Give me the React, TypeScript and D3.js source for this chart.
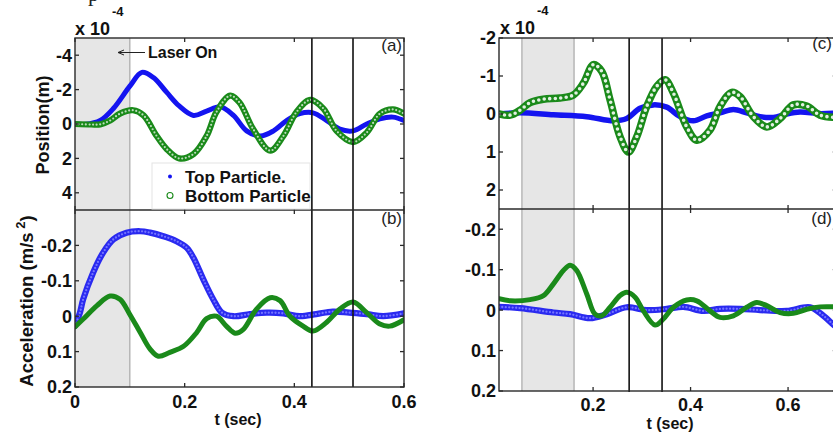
import React from 'react';
import * as d3 from 'd3';

type Pt = [number, number];

// ---------- DATA ----------
// (a) position, units of 1e-4 m (axis reversed: negative up)
const topPosA: Pt[] = [
  [0, 0], [0.02, 0.02], [0.046, -0.2], [0.07, -0.9], [0.1, -2.2], [0.122, -3.0], [0.143, -2.7],
  [0.167, -1.85], [0.19, -1.05], [0.216, -0.5], [0.24, -0.75], [0.265, -1.0], [0.289, -0.5],
  [0.313, 0.4], [0.338, 0.7], [0.362, 0.4], [0.386, -0.2], [0.41, -0.6], [0.434, -0.65],
  [0.459, -0.2], [0.483, 0.3], [0.507, 0.4], [0.532, 0], [0.556, -0.3], [0.58, -0.4], [0.6, -0.2],
];
const botPosA: Pt[] = [
  [0, 0], [0.03, 0.03], [0.046, 0.02], [0.064, -0.2], [0.082, -0.6], [0.106, -0.8], [0.125, -0.5],
  [0.149, 0.7], [0.167, 1.45], [0.19, 2.0], [0.216, 1.75], [0.24, 0.7], [0.258, -0.7], [0.283, -1.65],
  [0.3, -1.25], [0.325, 0.3], [0.356, 1.55], [0.38, 0.7], [0.404, -0.7], [0.429, -1.4], [0.453, -0.9],
  [0.477, 0.4], [0.507, 1.05], [0.532, 0.5], [0.556, -0.6], [0.58, -0.85], [0.6, -0.6],
];
// (b) acceleration, m/s^2
const topAccB: Pt[] = [
  [0, 0.027], [0.009, -0.01], [0.015, -0.048], [0.033, -0.123], [0.051, -0.179], [0.07, -0.217],
  [0.094, -0.236], [0.119, -0.24], [0.137, -0.236], [0.161, -0.226], [0.185, -0.212], [0.204, -0.193],
  [0.216, -0.165], [0.234, -0.104], [0.252, -0.048], [0.268, -0.01], [0.289, 0], [0.319, -0.006],
  [0.35, -0.01], [0.38, -0.008], [0.41, 0], [0.44, -0.006], [0.47, -0.013], [0.5, -0.01],
  [0.532, -0.006], [0.562, 0], [0.6, -0.008],
];
const botAccB: Pt[] = [
  [0, 0.03], [0.015, 0.008], [0.04, -0.03], [0.064, -0.057], [0.082, -0.048], [0.1, -0.005],
  [0.119, 0.046], [0.137, 0.093], [0.152, 0.113], [0.173, 0.102], [0.198, 0.085], [0.222, 0.046],
  [0.24, 0.007], [0.258, 0], [0.276, 0.028], [0.292, 0.048], [0.307, 0.037], [0.331, -0.02],
  [0.356, -0.052], [0.374, -0.044], [0.392, 0], [0.416, 0.028], [0.434, 0.042], [0.459, 0.017],
  [0.483, -0.02], [0.507, -0.04], [0.532, -0.01], [0.556, 0.022], [0.574, 0.028], [0.6, 0.01],
];
// (c) position, units of 1e-4 m
const topPosC: Pt[] = [
  [0.0072, 0], [0.0503, -0.03], [0.1187, 0.02], [0.187, 0.07], [0.2417, 0.18], [0.2691, 0.12],
  [0.2964, -0.15], [0.3237, -0.24], [0.3511, -0.18], [0.3785, 0.07], [0.4058, 0.18], [0.4332, 0.05],
  [0.4605, -0.03], [0.4878, -0.12], [0.5152, -0.03], [0.5426, 0.07], [0.5699, 0.09], [0.5973, 0],
  [0.6246, -0.05], [0.6656, -0.01], [0.7, -0.03],
];
const botPosC: Pt[] = [
  [0.0072, 0], [0.0297, 0.03], [0.0503, -0.1], [0.0708, -0.3], [0.0981, -0.39], [0.1323, -0.42],
  [0.1596, -0.5], [0.1801, -0.81], [0.2006, -1.3], [0.2178, -1.12], [0.2349, -0.37], [0.2554, 0.6],
  [0.2725, 1.0], [0.2896, 0.6], [0.3101, -0.2], [0.3306, -0.73], [0.3477, -0.9], [0.3648, -0.55],
  [0.3921, 0.34], [0.4127, 0.69], [0.44, 0.42], [0.4605, -0.2], [0.4845, -0.57], [0.5015, -0.46],
  [0.5289, 0.07], [0.5563, 0.34], [0.5836, 0.12], [0.6109, -0.24], [0.6383, -0.21], [0.6656, 0.03],
  [0.7, 0.09],
];
// (d) acceleration, m/s^2
const topAccD: Pt[] = [
  [0.0072, -0.008], [0.0503, -0.005], [0.1187, 0.006], [0.1528, 0.01], [0.1938, 0.02], [0.2281, 0.01],
  [0.2691, -0.007], [0.3101, 0], [0.3511, -0.003], [0.3853, -0.008], [0.4263, 0.002], [0.4605, -0.003],
  [0.5015, -0.003], [0.5426, 0], [0.5973, 0.002], [0.6451, -0.007], [0.6725, 0.014], [0.6923, 0.035],
  [0.7, 0.042],
];
const botAccD: Pt[] = [
  [0.0072, -0.028], [0.0297, -0.023], [0.0708, -0.026], [0.0981, -0.036], [0.1187, -0.065],
  [0.1391, -0.098], [0.1528, -0.111], [0.1665, -0.098], [0.187, -0.04], [0.2041, 0.01], [0.2178, 0.014],
  [0.2349, -0.007], [0.2554, -0.036], [0.2691, -0.044], [0.2862, -0.032], [0.3032, 0.002],
  [0.3272, 0.037], [0.3442, 0.022], [0.3648, -0.007], [0.3921, -0.025], [0.4127, -0.023], [0.44, 0.002],
  [0.4605, 0.018], [0.4878, 0.014], [0.5152, -0.007], [0.5357, -0.019], [0.5563, -0.011], [0.5836, 0.006],
  [0.6109, 0.008], [0.6383, -0.002], [0.6656, -0.008], [0.7, -0.008],
];

const leftTimeDomain = [0, 0.6];
const rightTimeDomain = [0.007, 0.7];
const leftPosDomain = [-5, 5];
const rightPosDomain = [-2, 2.5];
const leftAccDomain = [-0.3, 0.2];
const rightAccDomain = [-0.25, 0.2];
const leftTimeTicks = [0, 0.2, 0.4, 0.6];
const rightTimeTicks = [0.2, 0.4, 0.6];
const leftPosTicks = [-4, -2, 0, 2, 4];
const rightPosTicks = [-2, -1, 0, 1, 2];
const accTicks = [-0.2, -0.1, 0, 0.1, 0.2];
const leftLaser = [0, 0.1];
const rightLaser = [0.054, 0.161];
const leftEvents = [0.432, 0.507];
const rightEvents = [0.274, 0.3415];
const panelLabels = ['(a)', '(b)', '(c)', '(d)'];
const legendLabels = ['Top Particle.', 'Bottom Particle'];

// ---------- STYLE ----------
const FONT = '"Liberation Sans", Arial, Helvetica, sans-serif';
const BLUE = '#1414f0';
const GREEN = '#1a8a1a';
const AXIS = '#2a2a2a';

type SeriesStyle =
  | { kind: 'solid'; color: string; width: number }
  | { kind: 'ring'; color: string; width: number; inner: string; innerWidth: number; gap: number };

const Series: React.FC<{ data: Pt[]; x: d3.ScaleLinear<number, number>; y: d3.ScaleLinear<number, number>; s: SeriesStyle }> = ({ data, x, y, s }) => {
  const gen = d3.line<Pt>().x((d) => x(d[0])).y((d) => y(d[1])).curve(d3.curveCatmullRom.alpha(0.5));
  const d = gen(data) || '';
  return (
    <g>
      <path d={d} fill="none" stroke={s.color} strokeWidth={s.width} strokeLinecap="round" strokeLinejoin="round" />
      {s.kind === 'ring' && (
        <path d={d} fill="none" stroke={s.inner} strokeWidth={s.innerWidth} strokeLinecap="round" strokeDasharray={`0 ${s.gap}`} />
      )}
    </g>
  );
};

interface PanelProps {
  id: string;
  x: d3.ScaleLinear<number, number>;
  y: d3.ScaleLinear<number, number>;
  xTicks: number[];
  yTicks: number[];
  blue: Pt[];
  green: Pt[];
  blueStyle: SeriesStyle;
  greenStyle: SeriesStyle;
  label: string;
  labelDy: number;
}

const Panel: React.FC<PanelProps> = ({ id, x, y, xTicks, yTicks, blue, green, blueStyle, greenStyle, label, labelDy }) => {
  const [x0, x1] = x.range();
  const [ya, yb] = y.range();
  const top = Math.min(ya, yb);
  const bot = Math.max(ya, yb);
  return (
    <g>
      <defs>
        <clipPath id={id}>
          <rect x={x0} y={top} width={x1 - x0} height={bot - top} />
        </clipPath>
      </defs>
      <g clipPath={`url(#${id})`}>
        <Series data={blue} x={x} y={y} s={blueStyle} />
        <Series data={green} x={x} y={y} s={greenStyle} />
      </g>
      <g stroke={AXIS} strokeWidth={1.3}>
        {xTicks.map((t) => (
          <g key={'xt' + t}>
            <line x1={x(t)} x2={x(t)} y1={bot} y2={bot - 4} />
            <line x1={x(t)} x2={x(t)} y1={top} y2={top + 4} />
          </g>
        ))}
        {yTicks.map((t) => (
          <g key={'yt' + t}>
            <line x1={x0} x2={x0 + 4} y1={y(t)} y2={y(t)} />
            <line x1={x1} x2={x1 - 4} y1={y(t)} y2={y(t)} />
          </g>
        ))}
      </g>
      {yTicks.map((t) => (
        <text key={'yl' + t} x={x0 - 3} y={y(t)} dy="0.36em" textAnchor="end" fontFamily={FONT} fontWeight="bold" fontSize={18} fill="#111">
          {String(t)}
        </text>
      ))}
      <text x={Math.min(x1, 834) - 2} y={top + labelDy} textAnchor="end" fontFamily={FONT} fontSize={17} fill="#222">
        {label}
      </text>
    </g>
  );
};

const App: React.FC = () => {
  const W = 833;
  const H = 433;

  // left column
  const xL = d3.scaleLinear().domain(leftTimeDomain).range([75, 404]);
  const yA = d3.scaleLinear().domain(leftPosDomain).range([38, 210]);
  const yB = d3.scaleLinear().domain(leftAccDomain).range([210, 387]);
  // right column
  const xR = d3.scaleLinear().domain(rightTimeDomain).range([499, 836.8]);
  const yC = d3.scaleLinear().domain(rightPosDomain).range([38, 209]);
  const yD = d3.scaleLinear().domain(rightAccDomain).range([209, 391]);

  const solidBlue: SeriesStyle = { kind: 'solid', color: BLUE, width: 5 };
  const solidGreen: SeriesStyle = { kind: 'solid', color: GREEN, width: 5 };
  const ringGreen: SeriesStyle = { kind: 'ring', color: GREEN, width: 6.2, inner: '#bcdcbc', innerWidth: 2.2, gap: 3.6 };
  const ringGreenBig: SeriesStyle = { kind: 'ring', color: GREEN, width: 7.5, inner: '#e2f0e2', innerWidth: 3.6, gap: 5.5 };
  const ringBlue: SeriesStyle = { kind: 'ring', color: '#2a2af0', width: 6.2, inner: '#7474ff', innerWidth: 2.3, gap: 3.4 };

  const boxes = [
    { x: xL, top: 38, mid: 210, bot: 387 },
    { x: xR, top: 38, mid: 209, bot: 391 },
  ];

  return (
    <svg width={W} height={H} viewBox={`0 0 ${W} ${H}`} style={{ position: 'fixed', left: 0, top: 0, background: '#fff' }}>
      <rect x={0} y={0} width={W} height={H} fill="#fff" />
      {/* cropped caption fragment */}
      <text x={88} y={1} fontFamily='"Liberation Serif", "DejaVu Serif", serif' fontSize={22} fill="#222">p</text>

      {/* laser-on shaded intervals */}
      <rect x={xL(leftLaser[0])} y={38} width={xL(leftLaser[1]) - xL(leftLaser[0])} height={387 - 38} fill="#e6e6e6" />
      <line x1={xL(leftLaser[1])} x2={xL(leftLaser[1])} y1={38} y2={387} stroke="#a8a8a8" strokeWidth={1.2} />
      <rect x={xR(rightLaser[0])} y={38} width={xR(rightLaser[1]) - xR(rightLaser[0])} height={391 - 38} fill="#e6e6e6" />
      <line x1={xR(rightLaser[0])} x2={xR(rightLaser[0])} y1={38} y2={391} stroke="#a8a8a8" strokeWidth={1.2} />
      <line x1={xR(rightLaser[1])} x2={xR(rightLaser[1])} y1={38} y2={391} stroke="#a8a8a8" strokeWidth={1.2} />

      <Panel id="clipA" x={xL} y={yA} xTicks={leftTimeTicks} yTicks={leftPosTicks} blue={topPosA} green={botPosA}
        blueStyle={solidBlue} greenStyle={ringGreen} label={panelLabels[0]} labelDy={13} />
      <Panel id="clipB" x={xL} y={yB} xTicks={leftTimeTicks} yTicks={accTicks} blue={topAccB} green={botAccB}
        blueStyle={ringBlue} greenStyle={solidGreen} label={panelLabels[1]} labelDy={13.5} />
      <Panel id="clipC" x={xR} y={yC} xTicks={rightTimeTicks} yTicks={rightPosTicks} blue={topPosC} green={botPosC}
        blueStyle={{ kind: 'solid', color: BLUE, width: 5.5 }} greenStyle={ringGreenBig} label={panelLabels[2]} labelDy={11} />
      <Panel id="clipD" x={xR} y={yD} xTicks={rightTimeTicks} yTicks={accTicks} blue={topAccD} green={botAccD}
        blueStyle={ringBlue} greenStyle={solidGreen} label={panelLabels[3]} labelDy={14.5} />

      {/* event lines */}
      {leftEvents.map((t) => (
        <line key={'le' + t} x1={xL(t)} x2={xL(t)} y1={38} y2={387} stroke="#111" strokeWidth={1.6} />
      ))}
      {rightEvents.map((t) => (
        <line key={'re' + t} x1={xR(t)} x2={xR(t)} y1={38} y2={392} stroke="#111" strokeWidth={1.6} />
      ))}

      {/* axes boxes */}
      {boxes.map((b, i) => {
        const [a0, a1] = b.x.range();
        return (
          <g key={'box' + i} fill="none" stroke={AXIS} strokeWidth={1.4}>
            <rect x={a0} y={b.top} width={a1 - a0} height={b.bot - b.top} />
            <line x1={a0} x2={a1} y1={b.mid} y2={b.mid} />
          </g>
        );
      })}

      {/* x tick labels */}
      {leftTimeTicks.map((t) => (
        <text key={'xl' + t} x={xL(t)} y={408} textAnchor="middle" fontFamily={FONT} fontWeight="bold" fontSize={18} fill="#111">
          {String(t)}
        </text>
      ))}
      {rightTimeTicks.map((t) => (
        <text key={'xr' + t} x={xR(t)} y={411} textAnchor="middle" fontFamily={FONT} fontWeight="bold" fontSize={18} fill="#111">
          {String(t)}
        </text>
      ))}
      <text x={238} y={425} textAnchor="middle" fontFamily={FONT} fontWeight="bold" fontSize={16} fill="#111">t (sec)</text>
      <text x={670} y={429} textAnchor="middle" fontFamily={FONT} fontWeight="bold" fontSize={16} fill="#111">t (sec)</text>

      {/* exponent labels */}
      <text x={75} y={35} fontFamily={FONT} fontWeight="bold" fontSize={18} fill="#111">x 10</text>
      <text x={112} y={16} fontFamily={FONT} fontWeight="bold" fontSize={13} fill="#111">-4</text>
      <text x={500} y={34} fontFamily={FONT} fontWeight="bold" fontSize={18} fill="#111">x 10</text>
      <text x={537} y={15} fontFamily={FONT} fontWeight="bold" fontSize={13} fill="#111">-4</text>

      {/* y axis titles */}
      <text transform="translate(49,125) rotate(-90)" textAnchor="middle" fontFamily={FONT} fontWeight="bold" fontSize={18} fill="#111">
        Position(m)
      </text>
      <text transform="translate(33,301) rotate(-90)" textAnchor="middle" fontFamily={FONT} fontWeight="bold" fontSize={18.5} fill="#111">
        Acceleration (m/s
        <tspan dy={-8} fontSize={13}> 2</tspan>
        <tspan dy={8}>)</tspan>
      </text>

      {/* Laser On annotation */}
      <g stroke="#222" strokeWidth={1} fill="none">
        <line x1={118} x2={145} y1={52.5} y2={52.5} />
        <polyline points="124,50 118,52.5 124,55" />
      </g>
      <text x={148} y={58} fontFamily={FONT} fontWeight="bold" fontSize={16} fill="#111">Laser On</text>

      {/* legend */}
      <rect x={152} y={163} width={158} height={46} fill="#fff" stroke="#e4e4e4" strokeWidth={1} />
      <circle cx={170} cy={176.5} r={2} fill={BLUE} />
      <circle cx={170} cy={195.5} r={3} fill="none" stroke={GREEN} strokeWidth={1.1} />
      <text x={185} y={183} fontFamily={FONT} fontWeight="bold" fontSize={17} fill="#111">{legendLabels[0]}</text>
      <text x={185} y={202} fontFamily={FONT} fontWeight="bold" fontSize={17} fill="#111">{legendLabels[1]}</text>
    </svg>
  );
};

export default App;
